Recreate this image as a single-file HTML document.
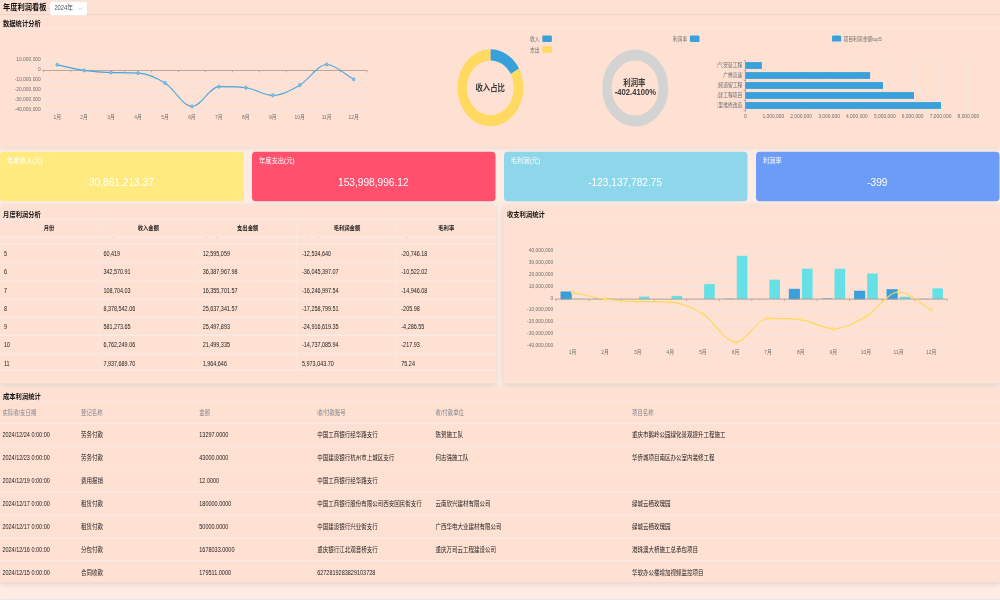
<!DOCTYPE html>
<html lang="zh-CN"><head><meta charset="utf-8"><title>年度利润看板</title>
<style>
html,body{margin:0;padding:0}
body{width:1000px;height:600px;overflow:hidden;background:#FEECE4;position:relative;font-family:"Liberation Sans","Noto Sans CJK SC",sans-serif}
#w{position:absolute;left:0;top:0;width:2000px;height:1030px;transform-origin:0 0;transform:scale(.5,.583333);overflow:hidden}
#w div{position:absolute;box-sizing:border-box}
#w svg{position:absolute;left:0;top:0;font-family:"Liberation Sans","Noto Sans CJK SC",sans-serif}
</style></head><body><div id="w">
<div style="left:0px;top:-10.29px;width:2000px;height:262.46px;background:#FFE1D4;box-shadow:0 2px 10px rgba(0,0,0,.12);"></div>
<div style="left:0;top:22.83px;width:2000px;height:4.4px;background:linear-gradient(rgba(225,205,190,0),rgba(226,208,196,.75) 50%,rgba(225,205,190,0))"></div>
<div style="top:2.11px;font-size:14.5px;line-height:23.2px;color:#111;white-space:nowrap;font-weight:bold;left:6px;">年度利润看板</div>
<div style="left:100px;top:2.57px;width:74px;height:23.14px;background:#fff;border-radius:4px;box-shadow:0 0 0 1px #e9e3e3;"></div>
<div style="top:5.44px;font-size:11.6px;line-height:18.6px;color:#4d515a;white-space:nowrap;left:108.8px;">2024年</div>
<div style="left:91.2px;top:13.56px;width:8.8px;height:1px;background:#d8c8c2"></div>
<div style="top:30.7px;font-size:12.6px;line-height:20.2px;color:#111;white-space:nowrap;font-weight:bold;left:6px;">数据统计分析</div>
<div style="left:0px;top:48.33px;width:2000px;height:1.4px;background:#F9E7E0"></div>
<div style="left:0px;top:260.4px;width:487.2px;height:84.86px;background:#FFEA80;border-radius:7px;"></div>
<div style="top:264.87px;font-size:12.6px;line-height:20.2px;color:#fff;white-space:nowrap;left:14px;">年度收入(元)</div>
<div style="top:295.92px;font-size:20.3px;line-height:32.5px;color:#fff;white-space:nowrap;left:2.8px;width:480px;text-align:center;">30,861,213.37</div>
<div style="left:503.8px;top:260.4px;width:487.2px;height:84.86px;background:#FF506E;border-radius:7px;"></div>
<div style="top:264.87px;font-size:12.6px;line-height:20.2px;color:#fff;white-space:nowrap;left:517.8px;">年度支出(元)</div>
<div style="top:295.92px;font-size:20.3px;line-height:32.5px;color:#fff;white-space:nowrap;left:506.6px;width:480px;text-align:center;">153,998,996.12</div>
<div style="left:1007.5px;top:260.4px;width:487.2px;height:84.86px;background:#8ED6EA;border-radius:7px;"></div>
<div style="top:264.87px;font-size:12.6px;line-height:20.2px;color:#fff;white-space:nowrap;left:1021.5px;">毛利润(元)</div>
<div style="top:295.92px;font-size:20.3px;line-height:32.5px;color:#fff;white-space:nowrap;left:1010.3px;width:480px;text-align:center;">-123,137,782.75</div>
<div style="left:1511.8px;top:260.4px;width:487.2px;height:84.86px;background:#6C9BF8;border-radius:7px;"></div>
<div style="top:264.87px;font-size:12.6px;line-height:20.2px;color:#fff;white-space:nowrap;left:1525.8px;">利润率</div>
<div style="top:295.92px;font-size:20.3px;line-height:32.5px;color:#fff;white-space:nowrap;left:1514.6px;width:480px;text-align:center;">-399</div>
<div style="left:0px;top:352.46px;width:991.6px;height:304.97px;background:#FFE1D4;border-radius:4px;box-shadow:0 2px 10px rgba(0,0,0,.12);"></div>
<div style="left:1007.2px;top:352.46px;width:992.8px;height:304.97px;background:#FFE1D4;border-radius:4px;box-shadow:0 2px 10px rgba(0,0,0,.12);"></div>
<div style="top:357.96px;font-size:12.6px;line-height:20.2px;color:#111;white-space:nowrap;font-weight:bold;left:6.2px;">月度利润分析</div>
<div style="top:357.96px;font-size:12.6px;line-height:20.2px;color:#111;white-space:nowrap;font-weight:bold;left:1014px;">收支利润统计</div>
<div style="left:0px;top:375.21px;width:991.6px;height:1.8px;background:#F5EBE7"></div>
<div style="left:1007.2px;top:375.21px;width:992.8px;height:1.8px;background:#FBE6DD"></div>
<div style="top:383.21px;font-size:10.6px;line-height:17px;color:#222;white-space:nowrap;font-weight:bold;left:3.1px;width:190px;text-align:center;">月份</div>
<div style="top:383.21px;font-size:10.6px;line-height:17px;color:#222;white-space:nowrap;font-weight:bold;left:201.7px;width:190px;text-align:center;">收入金额</div>
<div style="top:383.21px;font-size:10.6px;line-height:17px;color:#222;white-space:nowrap;font-weight:bold;left:400.3px;width:190px;text-align:center;">支出金额</div>
<div style="top:383.21px;font-size:10.6px;line-height:17px;color:#222;white-space:nowrap;font-weight:bold;left:598.9px;width:190px;text-align:center;">毛利润金额</div>
<div style="top:383.21px;font-size:10.6px;line-height:17px;color:#222;white-space:nowrap;font-weight:bold;left:797.5px;width:190px;text-align:center;">毛利率</div>
<div style="left:0px;top:405.81px;width:991.6px;height:1.8px;background:#F5EBE7"></div>
<div style="left:196.2px;top:376.11px;width:1.2px;height:258.17px;background:#F5EBE7"></div>
<div style="left:394.8px;top:376.11px;width:1.2px;height:258.17px;background:#F5EBE7"></div>
<div style="left:593.4px;top:376.11px;width:1.2px;height:258.17px;background:#F5EBE7"></div>
<div style="left:792px;top:376.11px;width:1.2px;height:258.17px;background:#F5EBE7"></div>
<div style="left:0px;top:633.39px;width:991.6px;height:1.8px;background:#F5EBE7"></div>
<div style="left:0;top:407.31px;width:991.6px;height:226.97px;overflow:hidden">
<div style="top:-12.73px;font-size:10.9px;line-height:17.4px;color:#1a1a1a;white-space:nowrap;left:8px;">4</div><div style="top:-12.73px;font-size:10.9px;line-height:17.4px;color:#1a1a1a;white-space:nowrap;left:206.8px;">103,220.18</div><div style="top:-12.73px;font-size:10.9px;line-height:17.4px;color:#1a1a1a;white-space:nowrap;left:405.4px;">2,712,540.50</div><div style="top:-12.73px;font-size:10.9px;line-height:17.4px;color:#1a1a1a;white-space:nowrap;left:604px;">-2,609,320.32</div><div style="top:-12.73px;font-size:10.9px;line-height:17.4px;color:#1a1a1a;white-space:nowrap;left:802.6px;">-2,527.92</div><div style="left:0px;top:-20.53px;width:991.6px;height:1.8px;background:#F5EBE7"></div><div style="top:19.76px;font-size:10.9px;line-height:17.4px;color:#1a1a1a;white-space:nowrap;left:8px;">5</div><div style="top:19.76px;font-size:10.9px;line-height:17.4px;color:#1a1a1a;white-space:nowrap;left:206.8px;">60,419</div><div style="top:19.76px;font-size:10.9px;line-height:17.4px;color:#1a1a1a;white-space:nowrap;left:405.4px;">12,595,059</div><div style="top:19.76px;font-size:10.9px;line-height:17.4px;color:#1a1a1a;white-space:nowrap;left:604px;">-12,534,640</div><div style="top:19.76px;font-size:10.9px;line-height:17.4px;color:#1a1a1a;white-space:nowrap;left:802.6px;">-20,746.18</div><div style="left:0px;top:10.76px;width:991.6px;height:1.8px;background:#F5EBE7"></div><div style="top:51.04px;font-size:10.9px;line-height:17.4px;color:#1a1a1a;white-space:nowrap;left:8px;">6</div><div style="top:51.04px;font-size:10.9px;line-height:17.4px;color:#1a1a1a;white-space:nowrap;left:206.8px;">342,570.91</div><div style="top:51.04px;font-size:10.9px;line-height:17.4px;color:#1a1a1a;white-space:nowrap;left:405.4px;">36,387,967.98</div><div style="top:51.04px;font-size:10.9px;line-height:17.4px;color:#1a1a1a;white-space:nowrap;left:604px;">-36,045,397.07</div><div style="top:51.04px;font-size:10.9px;line-height:17.4px;color:#1a1a1a;white-space:nowrap;left:802.6px;">-10,522.02</div><div style="left:0px;top:42.04px;width:991.6px;height:1.8px;background:#F5EBE7"></div><div style="top:82.33px;font-size:10.9px;line-height:17.4px;color:#1a1a1a;white-space:nowrap;left:8px;">7</div><div style="top:82.33px;font-size:10.9px;line-height:17.4px;color:#1a1a1a;white-space:nowrap;left:206.8px;">108,704.03</div><div style="top:82.33px;font-size:10.9px;line-height:17.4px;color:#1a1a1a;white-space:nowrap;left:405.4px;">16,355,701.57</div><div style="top:82.33px;font-size:10.9px;line-height:17.4px;color:#1a1a1a;white-space:nowrap;left:604px;">-16,246,997.54</div><div style="top:82.33px;font-size:10.9px;line-height:17.4px;color:#1a1a1a;white-space:nowrap;left:802.6px;">-14,946.08</div><div style="left:0px;top:73.33px;width:991.6px;height:1.8px;background:#F5EBE7"></div><div style="top:113.61px;font-size:10.9px;line-height:17.4px;color:#1a1a1a;white-space:nowrap;left:8px;">8</div><div style="top:113.61px;font-size:10.9px;line-height:17.4px;color:#1a1a1a;white-space:nowrap;left:206.8px;">8,378,542.06</div><div style="top:113.61px;font-size:10.9px;line-height:17.4px;color:#1a1a1a;white-space:nowrap;left:405.4px;">25,637,341.57</div><div style="top:113.61px;font-size:10.9px;line-height:17.4px;color:#1a1a1a;white-space:nowrap;left:604px;">-17,258,799.51</div><div style="top:113.61px;font-size:10.9px;line-height:17.4px;color:#1a1a1a;white-space:nowrap;left:802.6px;">-205.98</div><div style="left:0px;top:104.61px;width:991.6px;height:1.8px;background:#F5EBE7"></div><div style="top:144.9px;font-size:10.9px;line-height:17.4px;color:#1a1a1a;white-space:nowrap;left:8px;">9</div><div style="top:144.9px;font-size:10.9px;line-height:17.4px;color:#1a1a1a;white-space:nowrap;left:206.8px;">581,273.65</div><div style="top:144.9px;font-size:10.9px;line-height:17.4px;color:#1a1a1a;white-space:nowrap;left:405.4px;">25,497,893</div><div style="top:144.9px;font-size:10.9px;line-height:17.4px;color:#1a1a1a;white-space:nowrap;left:604px;">-24,916,619.35</div><div style="top:144.9px;font-size:10.9px;line-height:17.4px;color:#1a1a1a;white-space:nowrap;left:802.6px;">-4,286.55</div><div style="left:0px;top:135.9px;width:991.6px;height:1.8px;background:#F5EBE7"></div><div style="top:176.19px;font-size:10.9px;line-height:17.4px;color:#1a1a1a;white-space:nowrap;left:8px;">10</div><div style="top:176.19px;font-size:10.9px;line-height:17.4px;color:#1a1a1a;white-space:nowrap;left:206.8px;">6,762,249.06</div><div style="top:176.19px;font-size:10.9px;line-height:17.4px;color:#1a1a1a;white-space:nowrap;left:405.4px;">21,499,335</div><div style="top:176.19px;font-size:10.9px;line-height:17.4px;color:#1a1a1a;white-space:nowrap;left:604px;">-14,737,085.94</div><div style="top:176.19px;font-size:10.9px;line-height:17.4px;color:#1a1a1a;white-space:nowrap;left:802.6px;">-217.93</div><div style="left:0px;top:167.19px;width:991.6px;height:1.8px;background:#F5EBE7"></div><div style="top:207.47px;font-size:10.9px;line-height:17.4px;color:#1a1a1a;white-space:nowrap;left:8px;">11</div><div style="top:207.47px;font-size:10.9px;line-height:17.4px;color:#1a1a1a;white-space:nowrap;left:206.8px;">7,937,689.70</div><div style="top:207.47px;font-size:10.9px;line-height:17.4px;color:#1a1a1a;white-space:nowrap;left:405.4px;">1,964,646</div><div style="top:207.47px;font-size:10.9px;line-height:17.4px;color:#1a1a1a;white-space:nowrap;left:604px;">5,973,043.70</div><div style="top:207.47px;font-size:10.9px;line-height:17.4px;color:#1a1a1a;white-space:nowrap;left:802.6px;">75.24</div><div style="left:0px;top:198.47px;width:991.6px;height:1.8px;background:#F5EBE7"></div></div>
<div style="left:0px;top:664.29px;width:2000px;height:333.26px;background:#FFE1D4;border-radius:4px;box-shadow:0 2px 10px rgba(0,0,0,.12);"></div>
<div style="top:669.96px;font-size:12.6px;line-height:20.2px;color:#111;white-space:nowrap;font-weight:bold;left:6px;">成本利润统计</div>
<div style="left:0px;top:686.53px;width:2000px;height:1.8px;background:#F5EBE7"></div>
<div style="top:699.01px;font-size:10.8px;line-height:17.3px;color:#80848c;white-space:nowrap;left:4.8px;">实际收/支日期</div>
<div style="top:699.01px;font-size:10.8px;line-height:17.3px;color:#80848c;white-space:nowrap;left:162px;">登记名称</div>
<div style="top:699.01px;font-size:10.8px;line-height:17.3px;color:#80848c;white-space:nowrap;left:398.6px;">金额</div>
<div style="top:699.01px;font-size:10.8px;line-height:17.3px;color:#80848c;white-space:nowrap;left:634.4px;">收/付款账号</div>
<div style="top:699.01px;font-size:10.8px;line-height:17.3px;color:#80848c;white-space:nowrap;left:871px;">收/付款单位</div>
<div style="top:699.01px;font-size:10.8px;line-height:17.3px;color:#80848c;white-space:nowrap;left:1264px;">项目名称</div>
<div style="left:0px;top:725.1px;width:2000px;height:1.8px;background:#F5EBE7"></div>
<div style="top:737.69px;font-size:11px;line-height:17.6px;color:#1a1a1a;white-space:nowrap;left:4.8px;">2024/12/24 0:00:00</div>
<div style="top:737.69px;font-size:11px;line-height:17.6px;color:#1a1a1a;white-space:nowrap;left:162px;">劳务付款</div>
<div style="top:737.69px;font-size:11px;line-height:17.6px;color:#1a1a1a;white-space:nowrap;left:398.6px;">13297.0000</div>
<div style="top:737.69px;font-size:11px;line-height:17.6px;color:#1a1a1a;white-space:nowrap;left:634.4px;">中国工商银行经华路支行</div>
<div style="top:737.69px;font-size:11px;line-height:17.6px;color:#1a1a1a;white-space:nowrap;left:871px;">陈贺施工队</div>
<div style="top:737.69px;font-size:11px;line-height:17.6px;color:#1a1a1a;white-space:nowrap;left:1264px;">重庆市鹅岭公园绿化景观提升工程施工</div>
<div style="left:0px;top:764.31px;width:2000px;height:1.8px;background:#F5EBE7"></div>
<div style="top:776.89px;font-size:11px;line-height:17.6px;color:#1a1a1a;white-space:nowrap;left:4.8px;">2024/12/23 0:00:00</div>
<div style="top:776.89px;font-size:11px;line-height:17.6px;color:#1a1a1a;white-space:nowrap;left:162px;">劳务付款</div>
<div style="top:776.89px;font-size:11px;line-height:17.6px;color:#1a1a1a;white-space:nowrap;left:398.6px;">43000.0000</div>
<div style="top:776.89px;font-size:11px;line-height:17.6px;color:#1a1a1a;white-space:nowrap;left:634.4px;">中国建设银行杭州市上城区支行</div>
<div style="top:776.89px;font-size:11px;line-height:17.6px;color:#1a1a1a;white-space:nowrap;left:871px;">何志强施工队</div>
<div style="top:776.89px;font-size:11px;line-height:17.6px;color:#1a1a1a;white-space:nowrap;left:1264px;">华侨城项目南区办公室内装修工程</div>
<div style="left:0px;top:803.51px;width:2000px;height:1.8px;background:#F5EBE7"></div>
<div style="top:816.1px;font-size:11px;line-height:17.6px;color:#1a1a1a;white-space:nowrap;left:4.8px;">2024/12/19 0:00:00</div>
<div style="top:816.1px;font-size:11px;line-height:17.6px;color:#1a1a1a;white-space:nowrap;left:162px;">费用报销</div>
<div style="top:816.1px;font-size:11px;line-height:17.6px;color:#1a1a1a;white-space:nowrap;left:398.6px;">12.0000</div>
<div style="top:816.1px;font-size:11px;line-height:17.6px;color:#1a1a1a;white-space:nowrap;left:634.4px;">中国工商银行经华路支行</div>
<div style="left:0px;top:842.72px;width:2000px;height:1.8px;background:#F5EBE7"></div>
<div style="top:855.3px;font-size:11px;line-height:17.6px;color:#1a1a1a;white-space:nowrap;left:4.8px;">2024/12/17 0:00:00</div>
<div style="top:855.3px;font-size:11px;line-height:17.6px;color:#1a1a1a;white-space:nowrap;left:162px;">租赁付款</div>
<div style="top:855.3px;font-size:11px;line-height:17.6px;color:#1a1a1a;white-space:nowrap;left:398.6px;">180000.0000</div>
<div style="top:855.3px;font-size:11px;line-height:17.6px;color:#1a1a1a;white-space:nowrap;left:634.4px;">中国工商银行股份有限公司西安回民街支行</div>
<div style="top:855.3px;font-size:11px;line-height:17.6px;color:#1a1a1a;white-space:nowrap;left:871px;">云南欣兴建材有限公司</div>
<div style="top:855.3px;font-size:11px;line-height:17.6px;color:#1a1a1a;white-space:nowrap;left:1264px;">绿城云栖玫瑰园</div>
<div style="left:0px;top:881.92px;width:2000px;height:1.8px;background:#F5EBE7"></div>
<div style="top:894.51px;font-size:11px;line-height:17.6px;color:#1a1a1a;white-space:nowrap;left:4.8px;">2024/12/17 0:00:00</div>
<div style="top:894.51px;font-size:11px;line-height:17.6px;color:#1a1a1a;white-space:nowrap;left:162px;">租赁付款</div>
<div style="top:894.51px;font-size:11px;line-height:17.6px;color:#1a1a1a;white-space:nowrap;left:398.6px;">50000.0000</div>
<div style="top:894.51px;font-size:11px;line-height:17.6px;color:#1a1a1a;white-space:nowrap;left:634.4px;">中国建设银行兴业街支行</div>
<div style="top:894.51px;font-size:11px;line-height:17.6px;color:#1a1a1a;white-space:nowrap;left:871px;">广西华电大业建材有限公司</div>
<div style="top:894.51px;font-size:11px;line-height:17.6px;color:#1a1a1a;white-space:nowrap;left:1264px;">绿城云栖玫瑰园</div>
<div style="left:0px;top:921.13px;width:2000px;height:1.8px;background:#F5EBE7"></div>
<div style="top:933.71px;font-size:11px;line-height:17.6px;color:#1a1a1a;white-space:nowrap;left:4.8px;">2024/12/16 0:00:00</div>
<div style="top:933.71px;font-size:11px;line-height:17.6px;color:#1a1a1a;white-space:nowrap;left:162px;">分包付款</div>
<div style="top:933.71px;font-size:11px;line-height:17.6px;color:#1a1a1a;white-space:nowrap;left:398.6px;">1678033.0000</div>
<div style="top:933.71px;font-size:11px;line-height:17.6px;color:#1a1a1a;white-space:nowrap;left:634.4px;">重庆银行江北观音桥支行</div>
<div style="top:933.71px;font-size:11px;line-height:17.6px;color:#1a1a1a;white-space:nowrap;left:871px;">重庆万司云工程建设公司</div>
<div style="top:933.71px;font-size:11px;line-height:17.6px;color:#1a1a1a;white-space:nowrap;left:1264px;">港珠澳大桥施工总承包项目</div>
<div style="left:0px;top:960.33px;width:2000px;height:1.8px;background:#F5EBE7"></div>
<div style="top:972.92px;font-size:11px;line-height:17.6px;color:#1a1a1a;white-space:nowrap;left:4.8px;">2024/12/15 0:00:00</div>
<div style="top:972.92px;font-size:11px;line-height:17.6px;color:#1a1a1a;white-space:nowrap;left:162px;">合同收款</div>
<div style="top:972.92px;font-size:11px;line-height:17.6px;color:#1a1a1a;white-space:nowrap;left:398.6px;">179511.0000</div>
<div style="top:972.92px;font-size:11px;line-height:17.6px;color:#1a1a1a;white-space:nowrap;left:634.4px;">6272819283829103728</div>
<div style="top:972.92px;font-size:11px;line-height:17.6px;color:#1a1a1a;white-space:nowrap;left:1264px;">华软办公楼增加视频监控项目</div>
<div style="left:0.8px;top:1026.51px;width:2003.2px;height:15.77px;background:#E7E6E6;border-radius:4px;"></div>
<svg width="2000" height="1030" viewBox="0 0 2000 1030">
<line x1="84.5" y1="103.63" x2="734.3" y2="103.63" stroke="#F2E6E2" stroke-width="1.8"/>
<text x="81.6" y="105.27" font-size="9.8" text-anchor="end" fill="#6e6e6e">10,000,000</text>
<line x1="84.5" y1="137.91" x2="734.3" y2="137.91" stroke="#F2E6E2" stroke-width="1.8"/>
<text x="81.6" y="139.56" font-size="9.8" text-anchor="end" fill="#6e6e6e">-10,000,000</text>
<line x1="84.5" y1="155.06" x2="734.3" y2="155.06" stroke="#F2E6E2" stroke-width="1.8"/>
<text x="81.6" y="156.7" font-size="9.8" text-anchor="end" fill="#6e6e6e">-20,000,000</text>
<line x1="84.5" y1="172.2" x2="734.3" y2="172.2" stroke="#F2E6E2" stroke-width="1.8"/>
<text x="81.6" y="173.84" font-size="9.8" text-anchor="end" fill="#6e6e6e">-30,000,000</text>
<line x1="84.5" y1="189.34" x2="734.3" y2="189.34" stroke="#F2E6E2" stroke-width="1.8"/>
<text x="81.6" y="190.99" font-size="9.8" text-anchor="end" fill="#6e6e6e">-40,000,000</text>
<text x="81.6" y="122.41" font-size="9.8" text-anchor="end" fill="#6e6e6e">0</text>
<line x1="84.5" y1="120.77" x2="734.3" y2="120.77" stroke="#A79C98" stroke-width="1.6"/>
<line x1="87.5" y1="120.77" x2="87.5" y2="124.2" stroke="#A79C98" stroke-width="1.4"/>
<line x1="141.4" y1="120.77" x2="141.4" y2="124.2" stroke="#A79C98" stroke-width="1.4"/>
<line x1="195.3" y1="120.77" x2="195.3" y2="124.2" stroke="#A79C98" stroke-width="1.4"/>
<line x1="249.2" y1="120.77" x2="249.2" y2="124.2" stroke="#A79C98" stroke-width="1.4"/>
<line x1="303.1" y1="120.77" x2="303.1" y2="124.2" stroke="#A79C98" stroke-width="1.4"/>
<line x1="357" y1="120.77" x2="357" y2="124.2" stroke="#A79C98" stroke-width="1.4"/>
<line x1="410.9" y1="120.77" x2="410.9" y2="124.2" stroke="#A79C98" stroke-width="1.4"/>
<line x1="464.8" y1="120.77" x2="464.8" y2="124.2" stroke="#A79C98" stroke-width="1.4"/>
<line x1="518.7" y1="120.77" x2="518.7" y2="124.2" stroke="#A79C98" stroke-width="1.4"/>
<line x1="572.6" y1="120.77" x2="572.6" y2="124.2" stroke="#A79C98" stroke-width="1.4"/>
<line x1="626.5" y1="120.77" x2="626.5" y2="124.2" stroke="#A79C98" stroke-width="1.4"/>
<line x1="680.4" y1="120.77" x2="680.4" y2="124.2" stroke="#A79C98" stroke-width="1.4"/>
<line x1="734.3" y1="120.77" x2="734.3" y2="124.2" stroke="#A79C98" stroke-width="1.4"/>
<text x="114.45" y="203.93" font-size="9.8" text-anchor="middle" fill="#6e6e6e">1月</text>
<text x="168.35" y="203.93" font-size="9.8" text-anchor="middle" fill="#6e6e6e">2月</text>
<text x="222.25" y="203.93" font-size="9.8" text-anchor="middle" fill="#6e6e6e">3月</text>
<text x="276.15" y="203.93" font-size="9.8" text-anchor="middle" fill="#6e6e6e">4月</text>
<text x="330.05" y="203.93" font-size="9.8" text-anchor="middle" fill="#6e6e6e">5月</text>
<text x="383.95" y="203.93" font-size="9.8" text-anchor="middle" fill="#6e6e6e">6月</text>
<text x="437.85" y="203.93" font-size="9.8" text-anchor="middle" fill="#6e6e6e">7月</text>
<text x="491.75" y="203.93" font-size="9.8" text-anchor="middle" fill="#6e6e6e">8月</text>
<text x="545.65" y="203.93" font-size="9.8" text-anchor="middle" fill="#6e6e6e">9月</text>
<text x="599.55" y="203.93" font-size="9.8" text-anchor="middle" fill="#6e6e6e">10月</text>
<text x="653.45" y="203.93" font-size="9.8" text-anchor="middle" fill="#6e6e6e">11月</text>
<text x="707.35" y="203.93" font-size="9.8" text-anchor="middle" fill="#6e6e6e">12月</text>
<path d="M114.45 111.09C132.42 114.31 150.38 118.56 168.35 120.77C186.32 122.99 204.28 124.16 222.25 124.37C240.22 124.58 258.18 124.4 276.15 125.23C294.12 126.06 312.08 132.69 330.05 142.25C348.02 151.81 365.98 182.57 383.95 182.57C401.92 182.57 419.88 148.63 437.85 148.63C455.82 148.63 473.78 148.63 491.75 150.36C509.72 152.09 527.68 163.49 545.65 163.49C563.62 163.49 581.58 154.87 599.55 146.04C617.52 137.21 635.48 110.54 653.45 110.54C671.42 110.54 689.38 127.42 707.35 135.86" fill="none" stroke="#46A5E0" stroke-width="2" stroke-linejoin="round"/>
<circle cx="114.45" cy="111.09" r="2.6" fill="#8CC8EE" stroke="#46A5E0" stroke-width="1.4"/>
<circle cx="168.35" cy="120.77" r="2.6" fill="#8CC8EE" stroke="#46A5E0" stroke-width="1.4"/>
<circle cx="222.25" cy="124.37" r="2.6" fill="#8CC8EE" stroke="#46A5E0" stroke-width="1.4"/>
<circle cx="276.15" cy="125.23" r="2.6" fill="#8CC8EE" stroke="#46A5E0" stroke-width="1.4"/>
<circle cx="330.05" cy="142.25" r="2.6" fill="#8CC8EE" stroke="#46A5E0" stroke-width="1.4"/>
<circle cx="383.95" cy="182.57" r="2.6" fill="#8CC8EE" stroke="#46A5E0" stroke-width="1.4"/>
<circle cx="437.85" cy="148.63" r="2.6" fill="#8CC8EE" stroke="#46A5E0" stroke-width="1.4"/>
<circle cx="491.75" cy="150.36" r="2.6" fill="#8CC8EE" stroke="#46A5E0" stroke-width="1.4"/>
<circle cx="545.65" cy="163.49" r="2.6" fill="#8CC8EE" stroke="#46A5E0" stroke-width="1.4"/>
<circle cx="599.55" cy="146.04" r="2.6" fill="#8CC8EE" stroke="#46A5E0" stroke-width="1.4"/>
<circle cx="653.45" cy="110.54" r="2.6" fill="#8CC8EE" stroke="#46A5E0" stroke-width="1.4"/>
<circle cx="707.35" cy="135.86" r="2.6" fill="#8CC8EE" stroke="#46A5E0" stroke-width="1.4"/>
<path d="M980.8 84.51A66 66 0 0 1 1038.01 117.6L1021.54 127.07A47 47 0 0 0 980.8 103.51Z" fill="#38A0DA"/>
<path d="M1038.01 117.6A66 66 0 1 1 980.8 84.51L980.8 103.51A47 47 0 1 0 1021.54 127.07Z" fill="#FFD960"/>
<text x="980.4" y="156.01" font-size="14.8" text-anchor="middle" fill="#3a3a3a" font-weight="bold">收入占比</text>
<rect x="1084.6" y="61.03" width="19.2" height="10.8" rx="2" fill="#38A0DA"/>
<text x="1079.2" y="69.88" font-size="9.6" text-anchor="end" fill="#6e6e6e">收入</text>
<rect x="1084.6" y="79.46" width="19.2" height="10.8" rx="2" fill="#FFD960"/>
<text x="1079.2" y="88.31" font-size="9.6" text-anchor="end" fill="#6e6e6e">支出</text>
<circle cx="1270.4" cy="150.86" r="56.5" fill="none" stroke="#D3D3D3" stroke-width="19"/>
<text x="1268.8" y="147.96" font-size="14.8" text-anchor="middle" fill="#3a3a3a" font-weight="bold">利润率</text>
<text x="1270.8" y="162.02" font-size="15.3" text-anchor="middle" fill="#3a3a3a" font-weight="bold">-402.4100%</text>
<rect x="1379.8" y="61.03" width="19.2" height="10.8" rx="2" fill="#38A0DA"/>
<text x="1374.4" y="69.88" font-size="9.6" text-anchor="end" fill="#6e6e6e">利润率</text>
<line x1="1546.56" y1="103.71" x2="1546.56" y2="192" stroke="#F2E6E2" stroke-width="1.5"/>
<line x1="1602.32" y1="103.71" x2="1602.32" y2="192" stroke="#F2E6E2" stroke-width="1.5"/>
<line x1="1658.08" y1="103.71" x2="1658.08" y2="192" stroke="#F2E6E2" stroke-width="1.5"/>
<line x1="1713.84" y1="103.71" x2="1713.84" y2="192" stroke="#F2E6E2" stroke-width="1.5"/>
<line x1="1769.6" y1="103.71" x2="1769.6" y2="192" stroke="#F2E6E2" stroke-width="1.5"/>
<line x1="1825.36" y1="103.71" x2="1825.36" y2="192" stroke="#F2E6E2" stroke-width="1.5"/>
<line x1="1881.12" y1="103.71" x2="1881.12" y2="192" stroke="#F2E6E2" stroke-width="1.5"/>
<line x1="1936.88" y1="103.71" x2="1936.88" y2="192" stroke="#F2E6E2" stroke-width="1.5"/>
<line x1="1490.8" y1="103.71" x2="1490.8" y2="192" stroke="#A79C98" stroke-width="1.6"/>
<line x1="1487.8" y1="103.71" x2="1490.8" y2="103.71" stroke="#A79C98" stroke-width="1.4"/>
<line x1="1487.8" y1="120.86" x2="1490.8" y2="120.86" stroke="#A79C98" stroke-width="1.4"/>
<line x1="1487.8" y1="138" x2="1490.8" y2="138" stroke="#A79C98" stroke-width="1.4"/>
<line x1="1487.8" y1="155.14" x2="1490.8" y2="155.14" stroke="#A79C98" stroke-width="1.4"/>
<line x1="1487.8" y1="172.29" x2="1490.8" y2="172.29" stroke="#A79C98" stroke-width="1.4"/>
<line x1="1487.8" y1="189.43" x2="1490.8" y2="189.43" stroke="#A79C98" stroke-width="1.4"/>
<text x="1490.8" y="202.21" font-size="9.8" text-anchor="middle" fill="#6e6e6e">0</text>
<text x="1546.56" y="202.21" font-size="9.8" text-anchor="middle" fill="#6e6e6e">1,000,000</text>
<text x="1602.32" y="202.21" font-size="9.8" text-anchor="middle" fill="#6e6e6e">2,000,000</text>
<text x="1658.08" y="202.21" font-size="9.8" text-anchor="middle" fill="#6e6e6e">3,000,000</text>
<text x="1713.84" y="202.21" font-size="9.8" text-anchor="middle" fill="#6e6e6e">4,000,000</text>
<text x="1769.6" y="202.21" font-size="9.8" text-anchor="middle" fill="#6e6e6e">5,000,000</text>
<text x="1825.36" y="202.21" font-size="9.8" text-anchor="middle" fill="#6e6e6e">6,000,000</text>
<text x="1881.12" y="202.21" font-size="9.8" text-anchor="middle" fill="#6e6e6e">7,000,000</text>
<text x="1936.88" y="202.21" font-size="9.8" text-anchor="middle" fill="#6e6e6e">8,000,000</text>
<clipPath id="hc"><rect x="1435" y="94.29" width="60" height="102.86"/></clipPath>
<g clip-path="url(#hc)">
<text x="1484.6" y="115.06" font-size="9.6" text-anchor="end" fill="#6e6e6e">电气安装工程</text>
<text x="1484.6" y="132.2" font-size="9.6" text-anchor="end" fill="#6e6e6e">广佛高速</text>
<text x="1484.6" y="149.34" font-size="9.6" text-anchor="end" fill="#6e6e6e">高频道留工程</text>
<text x="1484.6" y="166.48" font-size="9.6" text-anchor="end" fill="#6e6e6e">新建工程项目</text>
<text x="1484.6" y="183.63" font-size="9.6" text-anchor="end" fill="#6e6e6e">幸福里维修改造</text>
</g>
<rect x="1490.8" y="106.46" width="33.01" height="11.66" fill="#38A0DA"/>
<rect x="1490.8" y="123.6" width="249.41" height="11.66" fill="#38A0DA"/>
<rect x="1490.8" y="140.74" width="275.18" height="11.66" fill="#38A0DA"/>
<rect x="1490.8" y="157.89" width="337.18" height="11.66" fill="#38A0DA"/>
<rect x="1490.8" y="175.03" width="391.21" height="11.66" fill="#38A0DA"/>
<rect x="1664" y="60.86" width="18.4" height="10.46" rx="2" fill="#38A0DA"/>
<text x="1687" y="69.63" font-size="9.6" text-anchor="start" fill="#6e6e6e">项目利润金额top5</text>
<line x1="1109.5" y1="431.14" x2="1894.9" y2="431.14" stroke="#F2E6E2" stroke-width="1.8"/>
<text x="1106.4" y="431.93" font-size="9.8" text-anchor="end" fill="#6e6e6e">40,000,000</text>
<line x1="1109.5" y1="451.54" x2="1894.9" y2="451.54" stroke="#F2E6E2" stroke-width="1.8"/>
<text x="1106.4" y="452.33" font-size="9.8" text-anchor="end" fill="#6e6e6e">30,000,000</text>
<line x1="1109.5" y1="471.94" x2="1894.9" y2="471.94" stroke="#F2E6E2" stroke-width="1.8"/>
<text x="1106.4" y="472.73" font-size="9.8" text-anchor="end" fill="#6e6e6e">20,000,000</text>
<line x1="1109.5" y1="492.34" x2="1894.9" y2="492.34" stroke="#F2E6E2" stroke-width="1.8"/>
<text x="1106.4" y="493.13" font-size="9.8" text-anchor="end" fill="#6e6e6e">10,000,000</text>
<line x1="1109.5" y1="533.14" x2="1894.9" y2="533.14" stroke="#F2E6E2" stroke-width="1.8"/>
<text x="1106.4" y="533.93" font-size="9.8" text-anchor="end" fill="#6e6e6e">-10,000,000</text>
<line x1="1109.5" y1="553.54" x2="1894.9" y2="553.54" stroke="#F2E6E2" stroke-width="1.8"/>
<text x="1106.4" y="554.33" font-size="9.8" text-anchor="end" fill="#6e6e6e">-20,000,000</text>
<line x1="1109.5" y1="573.94" x2="1894.9" y2="573.94" stroke="#F2E6E2" stroke-width="1.8"/>
<text x="1106.4" y="574.73" font-size="9.8" text-anchor="end" fill="#6e6e6e">-30,000,000</text>
<line x1="1109.5" y1="594.34" x2="1894.9" y2="594.34" stroke="#F2E6E2" stroke-width="1.8"/>
<text x="1106.4" y="595.13" font-size="9.8" text-anchor="end" fill="#6e6e6e">-40,000,000</text>
<text x="1106.4" y="513.53" font-size="9.8" text-anchor="end" fill="#6e6e6e">0</text>
<rect x="1121.8" y="500.4" width="21.2" height="12.34" fill="#38A0DA" stroke="#2C93D3" stroke-width="1"/>
<rect x="1147.5" y="511.93" width="21.2" height="0.82" fill="#64E0E6" stroke="#5AD0D8" stroke-width="0"/>
<rect x="1187" y="512.13" width="21.2" height="0.61" fill="#38A0DA" stroke="#2C93D3" stroke-width="0"/>
<rect x="1212.7" y="512.13" width="21.2" height="0.61" fill="#64E0E6" stroke="#5AD0D8" stroke-width="0"/>
<rect x="1252.2" y="512.7" width="21.2" height="0.04" fill="#38A0DA" stroke="#2C93D3" stroke-width="0"/>
<rect x="1277.9" y="508.42" width="21.2" height="4.32" fill="#64E0E6" stroke="#5AD0D8" stroke-width="0"/>
<rect x="1317.4" y="512.54" width="21.2" height="0.2" fill="#38A0DA" stroke="#2C93D3" stroke-width="0"/>
<rect x="1343.1" y="507.23" width="21.2" height="5.51" fill="#64E0E6" stroke="#5AD0D8" stroke-width="0"/>
<rect x="1382.6" y="512.62" width="21.2" height="0.12" fill="#38A0DA" stroke="#2C93D3" stroke-width="0"/>
<rect x="1408.3" y="487.04" width="21.2" height="25.7" fill="#64E0E6" stroke="#5AD0D8" stroke-width="0"/>
<rect x="1447.8" y="512.05" width="21.2" height="0.69" fill="#38A0DA" stroke="#2C93D3" stroke-width="0"/>
<rect x="1473.5" y="438.51" width="21.2" height="74.24" fill="#64E0E6" stroke="#5AD0D8" stroke-width="0"/>
<rect x="1513" y="512.52" width="21.2" height="0.22" fill="#38A0DA" stroke="#2C93D3" stroke-width="0"/>
<rect x="1538.7" y="479.37" width="21.2" height="33.37" fill="#64E0E6" stroke="#5AD0D8" stroke-width="0"/>
<rect x="1578.2" y="495.65" width="21.2" height="17.1" fill="#38A0DA" stroke="#2C93D3" stroke-width="1"/>
<rect x="1603.9" y="460.44" width="21.2" height="52.31" fill="#64E0E6" stroke="#5AD0D8" stroke-width="0"/>
<rect x="1643.4" y="511.56" width="21.2" height="1.18" fill="#38A0DA" stroke="#2C93D3" stroke-width="0"/>
<rect x="1669.1" y="460.72" width="21.2" height="52.02" fill="#64E0E6" stroke="#5AD0D8" stroke-width="0"/>
<rect x="1708.6" y="498.95" width="21.2" height="13.79" fill="#38A0DA" stroke="#2C93D3" stroke-width="1"/>
<rect x="1734.3" y="468.88" width="21.2" height="43.86" fill="#64E0E6" stroke="#5AD0D8" stroke-width="0"/>
<rect x="1773.8" y="496.55" width="21.2" height="16.2" fill="#38A0DA" stroke="#2C93D3" stroke-width="1"/>
<rect x="1799.5" y="508.74" width="21.2" height="4" fill="#64E0E6" stroke="#5AD0D8" stroke-width="0"/>
<rect x="1839" y="512.33" width="21.2" height="0.41" fill="#38A0DA" stroke="#2C93D3" stroke-width="0"/>
<rect x="1864.7" y="494.38" width="21.2" height="18.36" fill="#64E0E6" stroke="#5AD0D8" stroke-width="0"/>
<line x1="1109.5" y1="512.74" x2="1894.9" y2="512.74" stroke="#A79C98" stroke-width="1.6"/>
<line x1="1112.5" y1="512.74" x2="1112.5" y2="516.17" stroke="#A79C98" stroke-width="1.4"/>
<line x1="1177.7" y1="512.74" x2="1177.7" y2="516.17" stroke="#A79C98" stroke-width="1.4"/>
<line x1="1242.9" y1="512.74" x2="1242.9" y2="516.17" stroke="#A79C98" stroke-width="1.4"/>
<line x1="1308.1" y1="512.74" x2="1308.1" y2="516.17" stroke="#A79C98" stroke-width="1.4"/>
<line x1="1373.3" y1="512.74" x2="1373.3" y2="516.17" stroke="#A79C98" stroke-width="1.4"/>
<line x1="1438.5" y1="512.74" x2="1438.5" y2="516.17" stroke="#A79C98" stroke-width="1.4"/>
<line x1="1503.7" y1="512.74" x2="1503.7" y2="516.17" stroke="#A79C98" stroke-width="1.4"/>
<line x1="1568.9" y1="512.74" x2="1568.9" y2="516.17" stroke="#A79C98" stroke-width="1.4"/>
<line x1="1634.1" y1="512.74" x2="1634.1" y2="516.17" stroke="#A79C98" stroke-width="1.4"/>
<line x1="1699.3" y1="512.74" x2="1699.3" y2="516.17" stroke="#A79C98" stroke-width="1.4"/>
<line x1="1764.5" y1="512.74" x2="1764.5" y2="516.17" stroke="#A79C98" stroke-width="1.4"/>
<line x1="1829.7" y1="512.74" x2="1829.7" y2="516.17" stroke="#A79C98" stroke-width="1.4"/>
<line x1="1894.9" y1="512.74" x2="1894.9" y2="516.17" stroke="#A79C98" stroke-width="1.4"/>
<text x="1145.1" y="607.3" font-size="9.8" text-anchor="middle" fill="#6e6e6e">1月</text>
<text x="1210.3" y="607.3" font-size="9.8" text-anchor="middle" fill="#6e6e6e">2月</text>
<text x="1275.5" y="607.3" font-size="9.8" text-anchor="middle" fill="#6e6e6e">3月</text>
<text x="1340.7" y="607.3" font-size="9.8" text-anchor="middle" fill="#6e6e6e">4月</text>
<text x="1405.9" y="607.3" font-size="9.8" text-anchor="middle" fill="#6e6e6e">5月</text>
<text x="1471.1" y="607.3" font-size="9.8" text-anchor="middle" fill="#6e6e6e">6月</text>
<text x="1536.3" y="607.3" font-size="9.8" text-anchor="middle" fill="#6e6e6e">7月</text>
<text x="1601.5" y="607.3" font-size="9.8" text-anchor="middle" fill="#6e6e6e">8月</text>
<text x="1666.7" y="607.3" font-size="9.8" text-anchor="middle" fill="#6e6e6e">9月</text>
<text x="1731.9" y="607.3" font-size="9.8" text-anchor="middle" fill="#6e6e6e">10月</text>
<text x="1797.1" y="607.3" font-size="9.8" text-anchor="middle" fill="#6e6e6e">11月</text>
<text x="1862.3" y="607.3" font-size="9.8" text-anchor="middle" fill="#6e6e6e">12月</text>
<path d="M1145.1 501.22C1166.83 505.06 1188.57 510.11 1210.3 512.74C1232.03 515.38 1253.77 516.78 1275.5 517.03C1297.23 517.27 1318.97 517.06 1340.7 518.05C1362.43 519.04 1384.17 526.93 1405.9 538.3C1427.63 549.68 1449.37 586.28 1471.1 586.28C1492.83 586.28 1514.57 545.89 1536.3 545.89C1558.03 545.89 1579.77 545.89 1601.5 547.95C1623.23 550.01 1644.97 563.58 1666.7 563.58C1688.43 563.58 1710.17 553.32 1731.9 542.81C1753.63 532.31 1775.37 500.56 1797.1 500.56C1818.83 500.56 1840.57 520.65 1862.3 530.69" fill="none" stroke="#FFD85A" stroke-width="2" stroke-linejoin="round"/>
<circle cx="1145.1" cy="501.22" r="2.6" fill="#FFE89A" stroke="#FFD85A" stroke-width="1.4"/>
<circle cx="1210.3" cy="512.74" r="2.6" fill="#FFE89A" stroke="#FFD85A" stroke-width="1.4"/>
<circle cx="1275.5" cy="517.03" r="2.6" fill="#FFE89A" stroke="#FFD85A" stroke-width="1.4"/>
<circle cx="1340.7" cy="518.05" r="2.6" fill="#FFE89A" stroke="#FFD85A" stroke-width="1.4"/>
<circle cx="1405.9" cy="538.3" r="2.6" fill="#FFE89A" stroke="#FFD85A" stroke-width="1.4"/>
<circle cx="1471.1" cy="586.28" r="2.6" fill="#FFE89A" stroke="#FFD85A" stroke-width="1.4"/>
<circle cx="1536.3" cy="545.89" r="2.6" fill="#FFE89A" stroke="#FFD85A" stroke-width="1.4"/>
<circle cx="1601.5" cy="547.95" r="2.6" fill="#FFE89A" stroke="#FFD85A" stroke-width="1.4"/>
<circle cx="1666.7" cy="563.58" r="2.6" fill="#FFE89A" stroke="#FFD85A" stroke-width="1.4"/>
<circle cx="1731.9" cy="542.81" r="2.6" fill="#FFE89A" stroke="#FFD85A" stroke-width="1.4"/>
<circle cx="1797.1" cy="500.56" r="2.6" fill="#FFE89A" stroke="#FFD85A" stroke-width="1.4"/>
<circle cx="1862.3" cy="530.69" r="2.6" fill="#FFE89A" stroke="#FFD85A" stroke-width="1.4"/>
<path d="M156.8 13.2L160.4 16.29L164 13.2" fill="none" stroke="#b9bcc4" stroke-width="1.3"/>
</svg>
</div></body></html>
